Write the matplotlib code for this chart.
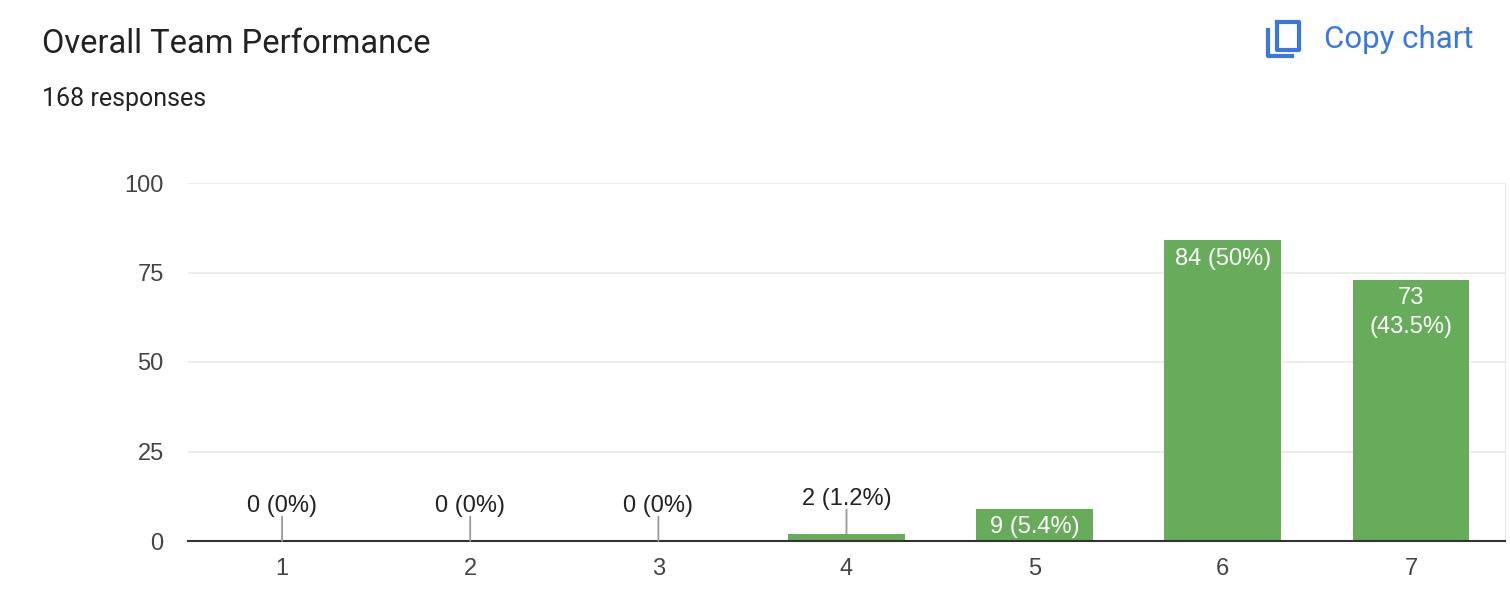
import matplotlib.pyplot as plt
from matplotlib.lines import Line2D

# Data
ratings = [1, 2, 3, 4, 5, 6, 7]
counts = [0, 0, 0, 2, 9, 84, 73]
percents = ["0%", "0%", "0%", "1.2%", "5.4%", "50%", "43.5%"]
inside = [False, False, False, False, True, True, True]
wrap = [False, False, False, False, False, False, True]
y_ticks = [0, 25, 50, 75, 100]

GREEN = "#67ac5b"
BLUE = "#3a78e0"
TEXT = "#222222"
FONT = ["Liberation Sans", "DejaVu Sans"]
SIZE = 17

fig = plt.figure(figsize=(15.1, 6.1), dpi=100)
ax = fig.add_axes([188 / 1510, 1 - 541 / 610, 1317 / 1510, 358 / 610])

ax.bar(ratings, counts, width=0.62, color=GREEN, zorder=3)
ax.set_xlim(0.5, 7.5)
ax.set_ylim(0, 100)
ax.set_yticks(y_ticks)
ax.set_xticks(ratings)
ax.grid(axis="y", color="#ebebeb", linewidth=1.3, zorder=0)
for s in ["left", "top"]:
    ax.spines[s].set_visible(False)
ax.spines["right"].set_color("#ebebeb")
ax.spines["bottom"].set_color("#333333")
ax.spines["bottom"].set_linewidth(1.5)
ax.spines["bottom"].set_zorder(4)
ax.tick_params(length=0, labelsize=SIZE, colors="#444444")
ax.tick_params(axis="y", pad=17.5)
ax.tick_params(axis="x", pad=12)
for lab in ax.get_xticklabels() + ax.get_yticklabels():
    lab.set_family(FONT)

# bar value labels
for x, c, p, ins, w in zip(ratings, counts, percents, inside, wrap):
    text = f"{c}\n({p})" if w else f"{c} ({p})"
    if ins:
        ax.annotate(text, (x, c), xytext=(0, -5.5), textcoords="offset points",
                    ha="center", va="top", color="white", fontsize=SIZE,
                    family=FONT, linespacing=1.42, zorder=5)
    else:
        ax.annotate("", (x, c), xytext=(0, 17.5), textcoords="offset points",
                    arrowprops=dict(arrowstyle="-", color="#999999", lw=1.3,
                                    shrinkA=0, shrinkB=0), zorder=5)
        ax.annotate(text, (x, c), xytext=(0, 17), textcoords="offset points",
                    ha="center", va="bottom", color=TEXT, fontsize=SIZE,
                    family=FONT, zorder=5)

# header
fig.text(42 / 1510, 1 - 44 / 610, "Overall Team Performance", fontsize=23.5,
         color=TEXT, family=["Roboto", "DejaVu Sans"], va="center")
fig.text(42 / 1510, 1 - 99 / 610, "168 responses", fontsize=18,
         color=TEXT, family=["Roboto", "DejaVu Sans"], va="center")
fig.text(1324 / 1510, 1 - 40 / 610, "Copy chart", fontsize=22.5,
         color=BLUE, family=["Roboto", "DejaVu Sans"], va="center")

# copy icon
def fx(px):
    return px / 1510

def fy(py):
    return 1 - py / 610

front_x = [1277, 1299, 1299, 1277, 1277]
front_y = [22, 22, 50, 50, 22]
back_x = [1268, 1268, 1292]
back_y = [30, 56, 56]
fig.add_artist(Line2D([fx(v) for v in front_x], [fy(v) for v in front_y],
                      color=BLUE, lw=3, solid_joinstyle="round"))
fig.add_artist(Line2D([fx(v) for v in back_x], [fy(v) for v in back_y],
                      color=BLUE, lw=3, solid_joinstyle="round"))

fig.savefig("out.png", dpi=100, facecolor="white")
